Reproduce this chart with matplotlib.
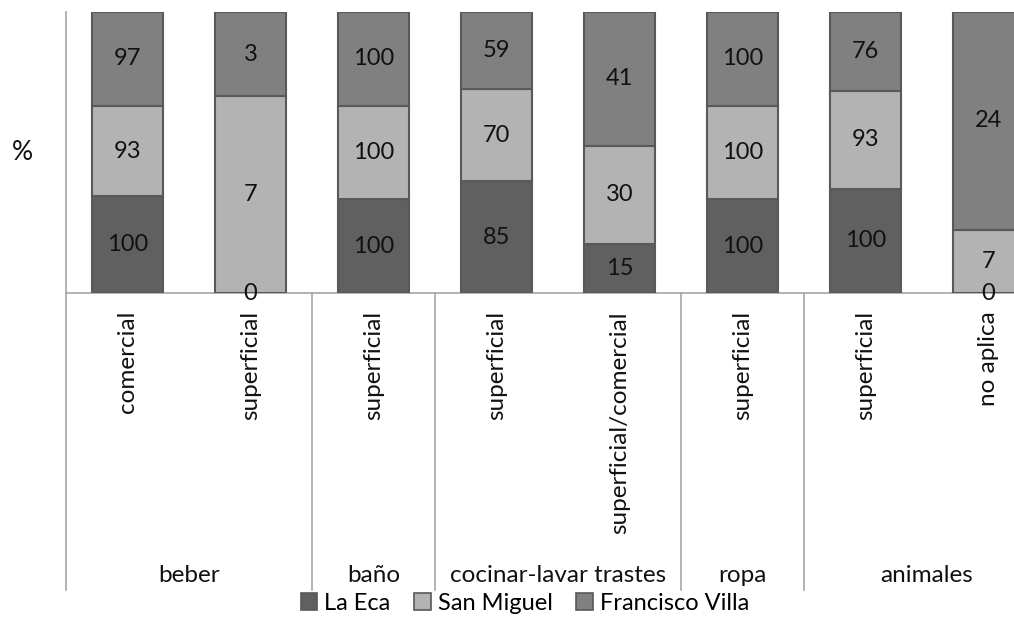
import matplotlib
matplotlib.use("Agg")
import matplotlib.pyplot as plt
import matplotlib.transforms as mtransforms
from matplotlib.patches import Patch
from matplotlib.lines import Line2D
import numpy as np

plt.rcParams['font.family'] = ['Lato', 'DejaVu Sans']

# Data
sub_labels = ["comercial", "superficial", "superficial", "superficial",
              "superficial/comercial", "superficial", "superficial", "no aplica"]
group_labels = ["beber", "baño", "cocinar-lavar trastes", "ropa", "animales"]
group_sizes = [2, 1, 2, 1, 2]
series_names = ["La Eca", "San Miguel", "Francisco Villa"]
la_eca = [100, 0, 100, 85, 15, 100, 100, 0]
san_miguel = [93, 7, 100, 70, 30, 100, 93, 7]
francisco_villa = [97, 3, 100, 59, 41, 100, 76, 24]
colors = ["#606060", "#b3b3b3", "#808080"]

W, H = 1014, 639
fig = plt.figure(figsize=(W / 100, H / 100), dpi=100)


def fx(px):
    return px / W


def fy(py):
    return 1 - py / H


cat_w = 123
left_px, base_px, top_px = 66, 293, 12
n = len(sub_labels)
ax = fig.add_axes([fx(left_px), fy(base_px), n * cat_w / W, (base_px - top_px) / H])

series = [np.array(la_eca, float), np.array(san_miguel, float), np.array(francisco_villa, float)]
totals = sum(series)
x = np.arange(n)
bottom = np.zeros(n)
for vals, col, name in zip(series, colors, series_names):
    pct = vals / totals * 100
    ax.bar(x, pct, 0.58, bottom=bottom, color=col, edgecolor="#595959",
           linewidth=1.5, label=name, zorder=3)
    for xi, b, p, v in zip(x, bottom, pct, vals):
        ax.text(xi, b + p / 2, f"{int(v)}", ha="center", va="center",
                fontsize=17, color="#111111", zorder=5)
    bottom = bottom + pct

ax.set_xlim(-0.5, n - 0.5)
ax.set_ylim(0, 100)
ax.set_xticks([])
ax.set_yticks([])
for s in ["top", "right"]:
    ax.spines[s].set_visible(False)
for s in ["left", "bottom"]:
    ax.spines[s].set_color("#a6a6a6")
    ax.spines[s].set_linewidth(1.2)

# Multi-level category axis
trans = mtransforms.blended_transform_factory(ax.transData, fig.transFigure)
for xi, lab in zip(x, sub_labels):
    ax.text(xi, fy(311), lab, rotation=90, ha="center", va="top",
            fontsize=17.5, color="#111111", transform=trans)

edges = np.concatenate([[0], np.cumsum(group_sizes)]) - 0.5
for e in edges:
    ax.add_line(Line2D([e, e], [fy(base_px), fy(590)], transform=trans,
                       color="#a6a6a6", linewidth=1.2, clip_on=False))
for g, lab in enumerate(group_labels):
    cx = (edges[g] + edges[g + 1]) / 2
    ax.text(cx, fy(576), lab, ha="center", va="center", fontsize=17.5,
            color="#111111", transform=trans)

fig.text(fx(22), fy(152), "%", ha="center", va="center", fontsize=19, color="#111111")

handles = [Patch(facecolor=c, edgecolor="#595959", linewidth=1.2) for c in colors]
fig.legend(handles, series_names, loc="center", bbox_to_anchor=(fx(525), fy(603)),
           ncol=3, frameon=False, fontsize=17, handlelength=0.7, handleheight=0.7,
           handletextpad=0.3, columnspacing=1.0)

fig.savefig("out.png", dpi=100)
